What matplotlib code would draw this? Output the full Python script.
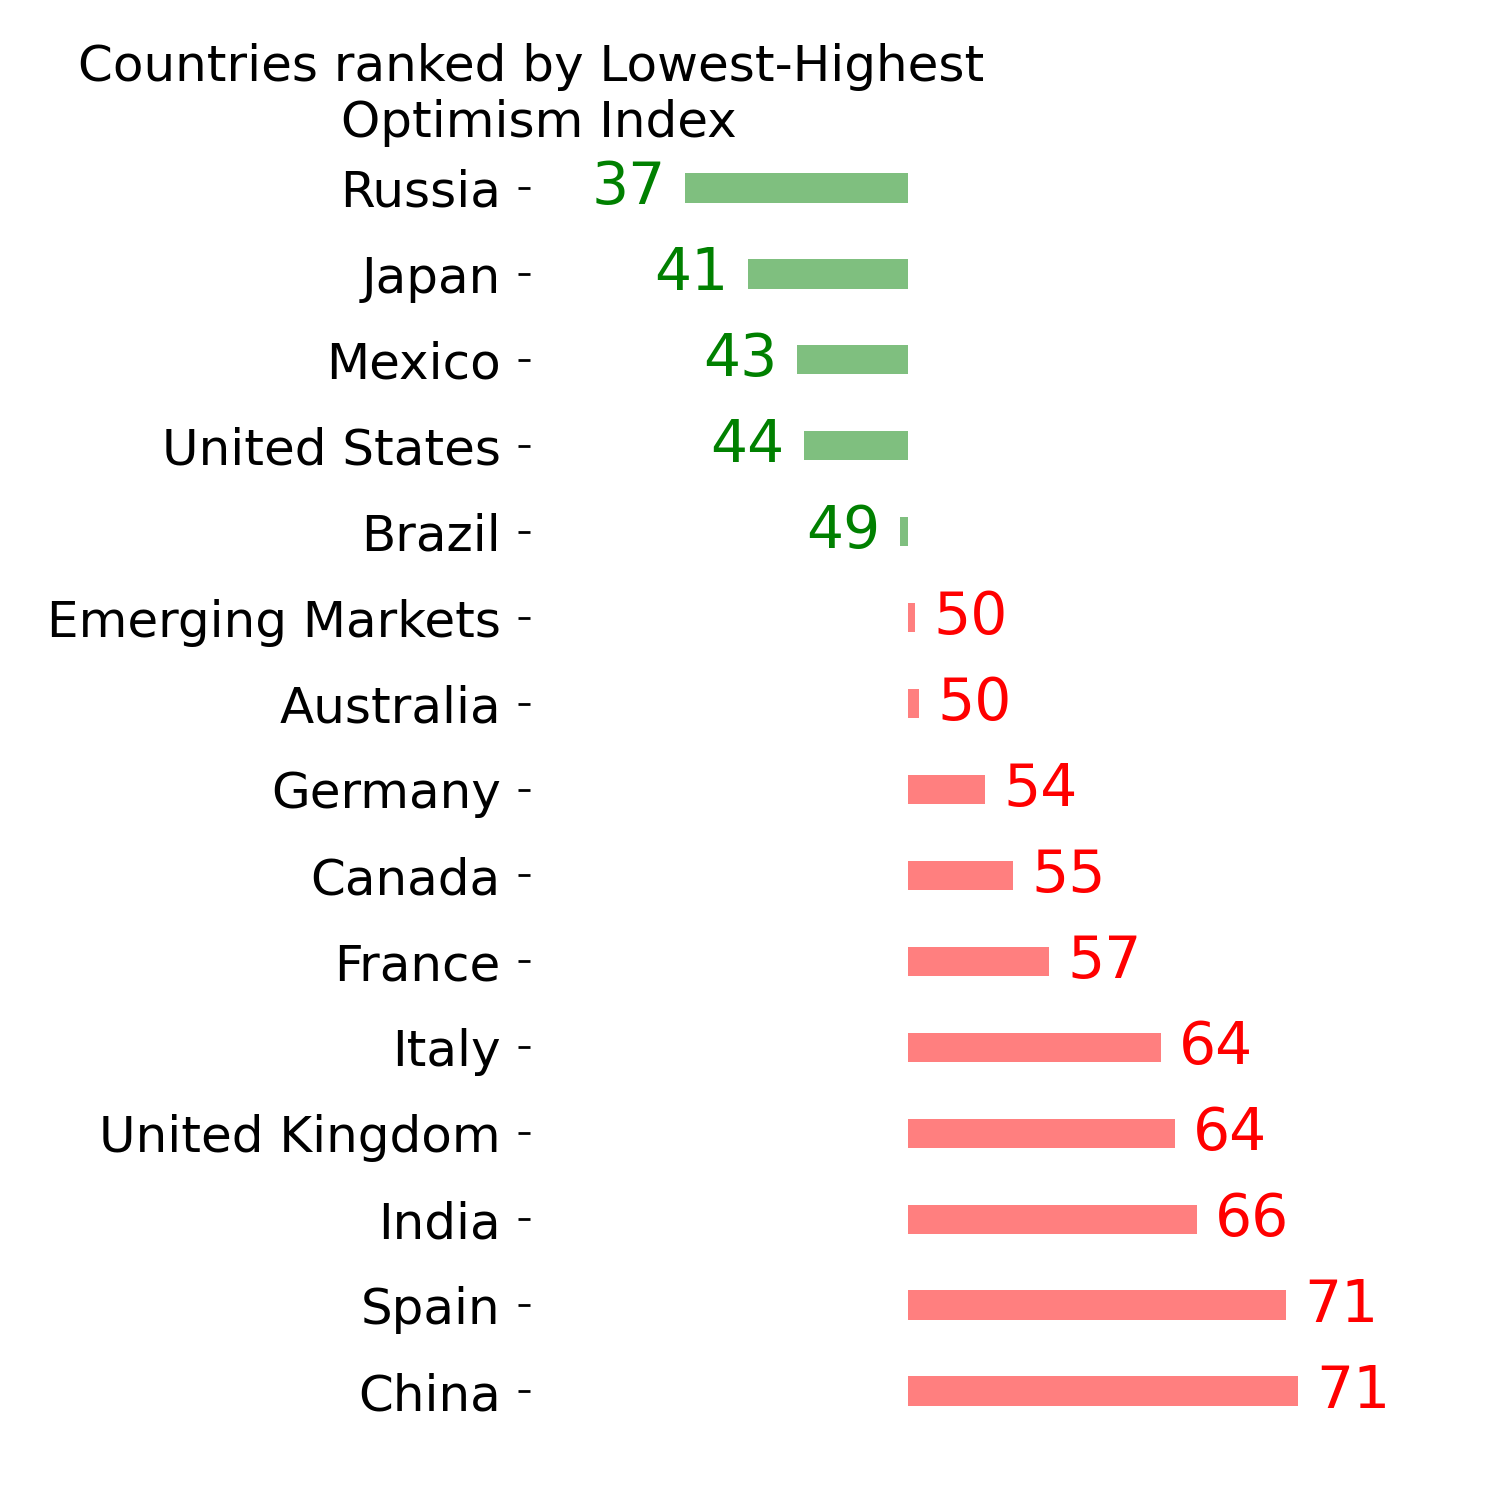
"""Diverging bar chart: optimism index by country, centred at 50."""
import matplotlib.pyplot as plt

countries = ["Russia", "Japan", "Mexico", "United States", "Brazil",
             "Emerging Markets", "Australia", "Germany", "Canada", "France",
             "Italy", "United Kingdom", "India", "Spain", "China"]
index_values = [37.61, 41.11, 43.83, 44.22, 49.56,
                50.39, 50.61, 54.28, 55.83, 57.83,
                64.06, 64.83, 66.06, 71.02, 71.67]
midpoint = 50


def main():
    fig = plt.figure(figsize=(15, 15), dpi=100)
    ax = fig.add_axes([530 / 1500, 1 - 1434 / 1500, 918 / 1500, 1289 / 1500])

    ypos = list(range(len(countries)))
    for y, v in zip(ypos, index_values):
        diff = v - midpoint
        if diff < 0:
            ax.barh(y, diff, left=midpoint, height=0.34, color="green", alpha=0.5)
            ax.annotate(str(int(v)), xy=(v, y), xytext=(-14, 0), textcoords="offset points",
                        ha="right", va="center", color="green", fontsize=42)
        else:
            ax.barh(y, diff, left=midpoint, height=0.34, color="red", alpha=0.5)
            ax.annotate(str(int(v)), xy=(v, y), xytext=(13, 0), textcoords="offset points",
                        ha="left", va="center", color="red", fontsize=42)

    ax.set_xlim(29, 80)
    ax.set_ylim(14.5, -0.5)
    ax.set_yticks(ypos)
    ax.set_yticklabels(countries, fontsize=36)
    ax.tick_params(axis="y", length=9, width=2, pad=12)
    ax.set_xticks([])
    for s in ax.spines.values():
        s.set_visible(False)

    fig.text(539 / 1500, 1 - 147 / 1500, "Countries ranked by Lowest-Highest \nOptimism Index",
             ha="center", va="bottom", fontsize=36)
    fig.savefig("out.png", dpi=100)
    plt.close(fig)


if __name__ == "__main__":
    main()
